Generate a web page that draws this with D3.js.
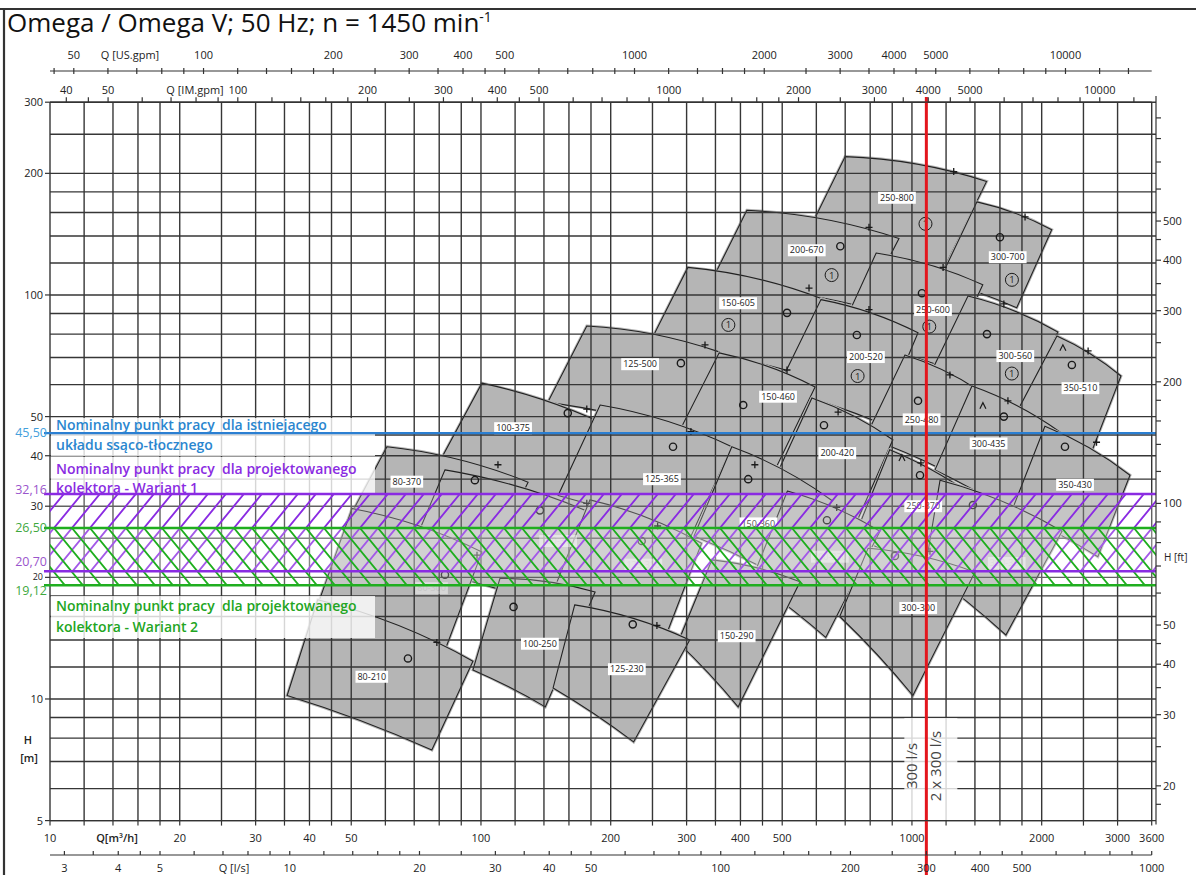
<!DOCTYPE html>
<html>
<head>
<meta charset="utf-8">
<script src="https://cdn.jsdelivr.net/npm/d3@7/dist/d3.min.js"></script>
<style>
  body { margin: 0; background: #fff; }
  text { font-family: "Open Sans", "DejaVu Sans", sans-serif; }
</style>
</head>
<body>
<script>
var width = 1196, height = 875;
var plotLeft = 50, plotRight = 1151.7, plotTop = 102.2, plotBottom = 820.6;
var ftAxisX = 1156;

// unit factors
var usGpmPerM3h = 4.402868, imGpmPerM3h = 3.666154, lsPerM3h = 1 / 3.6, ftPerM = 3.28084;

// grid pattern per decade
var gridSteps = [1, 1.2, 1.4, 1.6, 1.8, 2, 2.5, 3, 3.5, 4, 4.5, 5, 6, 7, 8, 9];
var decades = [1, 10, 100, 1000, 10000];

// tick labels
var qLabels = [10, 20, 30, 40, 50, 100, 200, 300, 400, 500, 1000, 2000, 3000, 3600];
var lsLabels = [3, 4, 5, 10, 20, 30, 40, 50, 100, 200, 300, 400, 500, 1000];
var imLabels = [40, 50, 100, 200, 300, 400, 500, 1000, 2000, 3000, 4000, 5000, 10000];
var usLabels = [50, 100, 200, 300, 400, 500, 1000, 2000, 3000, 4000, 5000, 10000];
var hLabels = [5, 10, 20, 30, 40, 50, 100, 200, 300];
var ftLabels = [20, 30, 40, 50, 100, 200, 300, 400, 500];

// pump tiles, drawing order; corners [Q m3/h, H m]: top-left, top-right, bottom-right, bottom-left
var tileNames = ["250-800", "300-700", "200-670", "250-600", "150-605", "300-560", "200-520", "125-500",
  "350-510", "150-460", "250-480", "100-375", "300-435", "200-420", "125-365", "350-430", "80-370",
  "150-360", "250-370", "100-310", "300-360", "200-330", "125-310", "80-300", "300-300", "150-290",
  "100-250", "125-230", "80-210"];
var tileOutlines = [
  [[700, 220], [1490, 191], [1180, 115], [555, 133]],
  [[1415, 170], [2110, 145], [1750, 93], [1160, 109]],
  [[414, 162], [933, 138], [773, 93.4], [344, 109]],
  [[826, 127], [1460, 106], [1190, 66.3], [673, 78.7]],
  [[302, 117], [625, 97.4], [510, 65.2], [247, 76.5]],
  [[1349, 99.4], [2180, 81], [1800, 51.9], [1100, 63.4]],
  [[615, 97.4], [1033, 80.6], [843, 48.2], [488, 58.8]],
  [[176, 83.8], [357, 72.3], [294, 46.3], [143, 54.3]],
  [[2170, 79.2], [3055, 63], [2590, 40], [1688, 47.6]],
  [[357, 71.9], [596, 59.2], [481, 36.9], [282, 43.8]],
  [[963, 71], [1423, 58.2], [1181, 36.9], [781, 44.5]],
  [[100.5, 60.5], [229, 43.8], [181, 25.8], [76.1, 34.9]],
  [[1378, 59.5], [2205, 45.8], [1830, 27.7], [1131, 36.9]],
  [[586, 55.6], [903, 43.8], [737, 26.8], [476, 34.3]],
  [[189, 53.4], [382, 42.1], [305, 24.9], [151, 31.9]],
  [[2035, 47.3], [3206, 35.8], [2700, 22.5], [1706, 29.3]],
  [[60.5, 42.1], [128.6, 34.4], [103.8, 21.3], [48.3, 26.8]],
  [[382, 42.1], [652, 31], [535, 19.2], [312, 25.3]],
  [[888, 41.4], [1517, 29.6], [1256, 18.4], [737, 25.3]],
  [[82.5, 36.9], [201, 27.4], [168, 16.15], [66.6, 21.5]],
  [[1162, 34.8], [2230, 26], [1652, 14.4], [1072, 20.9]],
  [[514, 32.7], [843, 26], [631, 14.2], [425, 19.7]],
  [[179, 31.1], [325, 24.3], [269, 14.4], [146, 18.1]],
  [[50.2, 29.6], [100.5, 23.1], [82.5, 13.2], [41.8, 17.1]],
  [[791, 23.6], [1400, 20.6], [1005, 10.2], [680, 16]],
  [[343.5, 22.1], [550, 19.5], [395, 9.56], [286.5, 13.8]],
  [[110.7, 19.9], [184, 18.4], [141, 9.56], [95.8, 11.8]],
  [[165, 17.1], [305, 14], [226, 7.83], [147, 10.65]],
  [[41.8, 17.6], [95.8, 12.4], [76.9, 7.48], [35.5, 10.2]]
];
var tileLabelAt = [[923, 174], [1668, 124], [570, 129], [1119, 91.8], [395, 95.4], [1737, 70.6], [782, 70.2],
  [234, 67.4], [2460, 58.8], [489, 56], [1053, 49.2], [118.7, 46.8], [1506, 42.9], [671, 40.6], [263, 35],
  [2390, 33.9], [67.3, 34.5], [440, 27.2], [1062, 30], [151, 24.6], [1659, 21.7], [645, 22.5], [238, 21.5],
  [76.8, 18.8], [1034, 16.8], [392, 14.3], [137, 13.7], [218, 11.85], [55.8, 11.35]];
var fadedLabels = ["100-310", "300-360", "200-330", "125-310", "80-300"];

// curve symbols
var plusMarks = [[1250, 202], [1830, 156], [795, 147], [577, 104], [1181, 117], [331, 75.2], [795, 92],
  [1634, 95], [513, 65.2], [2563, 72.7], [176, 52.2], [1225, 63.4], [1670, 54.7], [674, 51.3], [109.5, 38],
  [307, 45.9], [2681, 43.2], [432, 38], [1049, 38.4], [176, 30.5], [257, 26.8], [669, 29.8], [97.9, 22.7],
  [1101, 23.2], [256, 15.2], [79, 13.8]];
var ringMarks = [[682, 132], [1600, 139], [513, 90.3], [1055, 101], [291, 67.8], [745, 79.6], [1493, 80],
  [406, 53.4], [2350, 67.1], [159, 51], [1033, 54.7], [1634, 50], [625, 47.6], [96.8, 34.8], [279, 42.1],
  [2265, 42.1], [417, 35], [1044, 35.8], [137, 29.3], [236, 24.6], [635, 27.7], [1385, 30.2], [82.5, 20.3],
  [913, 22.6], [119, 16.9], [225, 15.3], [67.7, 12.6]];
var circledOneMarks = [[1075, 150], [651, 112], [1706, 109], [375, 84.3], [1097, 83.5], [748, 63], [1705, 63.9]];
var caretMarks = [[2240, 74], [1461, 53.2], [948, 39.5]];

// operating points
var existingHead = 45.50;
var variant1Heads = [32.16, 20.70];
var variant2Heads = [26.50, 19.12];
var dutyFlowLs = 300;

var blue = "#2b7fd2", purple = "#8a2be2", green = "#1fae1f";
var tileGrey = "#b5b5b5";

var svg = d3.select("body").append("svg")
    .attr("width", width)
    .attr("height", height);

var x = d3.scaleLog().domain([10, 3600]).range([plotLeft, plotRight]);
var y = d3.scaleLog().domain([5, 300]).range([plotBottom, plotTop]);
var xUS = d3.scaleLog().domain([10 * usGpmPerM3h, 3600 * usGpmPerM3h]).range([plotLeft, plotRight]);
var xIM = d3.scaleLog().domain([10 * imGpmPerM3h, 3600 * imGpmPerM3h]).range([plotLeft, plotRight]);
var xLS = d3.scaleLog().domain([10 * lsPerM3h, 3600 * lsPerM3h]).range([plotLeft, plotRight]);
var yFt = d3.scaleLog().domain([5 * ftPerM, 300 * ftPerM]).range([plotBottom, plotTop]);

function steps(lo, hi) {
    var out = [];
    decades.forEach(function(d) {
        gridSteps.forEach(function(s) {
            var v = +(s * d).toPrecision(4);
            if (v >= lo * 0.999 && v <= hi * 1.001) out.push(v);
        });
    });
    return out;
}

// quadratic edge bowing upward (pump curves are concave)
function bow(a, b, k) {
    var mx = (a[0] + b[0]) / 2, my = (a[1] + b[1]) / 2;
    var dx = b[0] - a[0], dy = b[1] - a[1], len = Math.sqrt(dx * dx + dy * dy);
    var nx = -dy / len, ny = dx / len;
    if (ny > 0) { nx = -nx; ny = -ny; }
    return "Q" + (mx + nx * k * len) + "," + (my + ny * k * len) + " " + b[0] + "," + b[1];
}
function tilePath(pts) {
    var p = pts.map(function(d) { return [x(d[0]), y(d[1])]; });
    return "M" + p[0] + bow(p[0], p[1], 0.07) + "L" + p[2] + bow(p[2], p[3], 0.03) + "Z";
}

// tiles: fill with a thin halo to close hairline gaps, then the outline
var tiles = svg.append("g").selectAll("g")
    .data(tileOutlines)
    .enter().append("g");
tiles.append("path")
    .attr("d", tilePath)
    .attr("fill", tileGrey)
    .attr("stroke", tileGrey)
    .attr("stroke-width", 3);
tiles.append("path")
    .attr("d", tilePath)
    .attr("fill", "none")
    .attr("stroke", "#222")
    .attr("stroke-width", 1.1);

// grid
var grid = svg.append("g").attr("stroke", "#363636").attr("stroke-width", 1.4);
grid.selectAll(".v").data(steps(10, 3400).concat([3600])).enter().append("line")
    .attr("x1", function(d) { return x(d); }).attr("x2", function(d) { return x(d); })
    .attr("y1", plotTop).attr("y2", plotBottom);
grid.selectAll(".h").data(steps(5, 300)).enter().append("line")
    .attr("x1", plotLeft).attr("x2", ftAxisX)
    .attr("y1", function(d) { return y(d); }).attr("y2", function(d) { return y(d); });

// symbols
var sym = svg.append("g").attr("stroke", "#1a1a1a").attr("fill", "none");
sym.selectAll(".plus").data(plusMarks).enter().append("path")
    .attr("d", function(d) { var a = x(d[0]), b = y(d[1]); return "M" + (a - 3.5) + "," + b + "h7M" + a + "," + (b - 3.5) + "v7"; })
    .attr("stroke-width", 1.3);
sym.selectAll(".ring").data(ringMarks).enter().append("circle")
    .attr("cx", function(d) { return x(d[0]); }).attr("cy", function(d) { return y(d[1]); })
    .attr("r", 3.6).attr("stroke-width", 1.4);
sym.selectAll(".one").data(circledOneMarks).enter().append("circle")
    .attr("cx", function(d) { return x(d[0]); }).attr("cy", function(d) { return y(d[1]); })
    .attr("r", 6.5).attr("stroke-width", 1);
svg.append("g").selectAll("text").data(circledOneMarks).enter().append("text")
    .attr("x", function(d) { return x(d[0]); }).attr("y", function(d) { return y(d[1]) + 3.5; })
    .attr("text-anchor", "middle").style("font-size", "9.5px").style("fill", "#222").text("1");
sym.selectAll(".caret").data(caretMarks).enter().append("path")
    .attr("d", function(d) { var a = x(d[0]), b = y(d[1]); return "M" + (a - 3) + "," + (b + 3) + "L" + a + "," + (b - 3) + "L" + (a + 3) + "," + (b + 3); })
    .attr("stroke-width", 1.2);

// tile labels
var lab = svg.append("g").selectAll("g")
    .data(tileNames)
    .enter().append("g")
    .attr("transform", function(d, i) { return "translate(" + x(tileLabelAt[i][0]) + "," + y(tileLabelAt[i][1]) + ")"; })
    .style("opacity", function(d) { return fadedLabels.indexOf(d) >= 0 ? 0.45 : 1; });
lab.append("rect").attr("fill", "#fff");
lab.append("text")
    .attr("text-anchor", "middle").attr("y", 3.2)
    .style("font-size", "9px").style("fill", function(d) { return fadedLabels.indexOf(d) >= 0 ? "#ddd" : "#222"; })
    .text(function(d) { return d; });
lab.each(function() {
    var g = d3.select(this), w = g.select("text").node().getComputedTextLength() + 4;
    g.select("rect").attr("x", -w / 2).attr("y", -6).attr("width", w).attr("height", 12);
});

// hatched operating bands
var defs = svg.append("defs");
defs.append("pattern").attr("id", "hatchW1").attr("patternUnits", "userSpaceOnUse")
    .attr("width", 18).attr("height", 22)
    .append("path").attr("d", "M0,22L18,0M-4.5,5.5L4.5,-5.5M13.5,27.5L22.5,16.5")
    .attr("stroke", purple).attr("stroke-width", 1.8);
defs.append("pattern").attr("id", "hatchW2").attr("patternUnits", "userSpaceOnUse")
    .attr("width", 18).attr("height", 22)
    .append("path").attr("d", "M0,0L18,22M-4.5,16.5L4.5,27.5M13.5,-5.5L22.5,5.5")
    .attr("stroke", green).attr("stroke-width", 1.8);

var bands = svg.append("g");
[[variant1Heads, "url(#hatchW1)"], [variant2Heads, "url(#hatchW2)"]].forEach(function(b) {
    var y0 = y(b[0][0]), y1 = y(b[0][1]);
    bands.append("rect").attr("x", plotLeft).attr("width", ftAxisX - plotLeft)
        .attr("y", y0).attr("height", y1 - y0).attr("fill", "#fff").attr("opacity", 0.22);
    bands.append("rect").attr("x", plotLeft).attr("width", ftAxisX - plotLeft)
        .attr("y", y0).attr("height", y1 - y0).attr("fill", b[1]);
});

// note boxes
var notes = svg.append("g");
[[418, 38], [457, 36], [596, 42]].forEach(function(r) {
    notes.append("rect").attr("x", plotLeft + 1).attr("y", r[0]).attr("width", 324).attr("height", r[1])
        .attr("fill", "#fff").attr("opacity", 0.8);
});

var headLines = [
    { v: existingHead, c: blue, t: "#44a0dc", dy: 4 },
    { v: variant1Heads[0], c: purple, t: "#9a55cc", dy: 0 },
    { v: variant1Heads[1], c: purple, t: "#9a55cc", dy: -5 },
    { v: variant2Heads[0], c: green, t: "#3ea83e", dy: 4 },
    { v: variant2Heads[1], c: green, t: "#3ea83e", dy: 9.5 }
];
var comma = function(v) { return d3.format(".2f")(v).replace(".", ","); };
notes.selectAll(".hl").data(headLines).enter().append("line")
    .attr("x1", 44).attr("x2", ftAxisX)
    .attr("y1", function(d) { return y(d.v); }).attr("y2", function(d) { return y(d.v); })
    .attr("stroke", function(d) { return d.c; }).attr("stroke-width", 2.4);
notes.selectAll(".hv").data(headLines).enter().append("text")
    .attr("x", 47).attr("y", function(d) { return y(d.v) + d.dy; })
    .attr("text-anchor", "end")
    .style("font-size", "12.5px").style("fill", function(d) { return d.t; })
    .text(function(d) { return comma(d.v); });

var noteText = [
    ["Nominalny punkt pracy  dla istniejącego", 430, "#2a86cf"],
    ["układu ssąco-tłocznego", 450, "#2a86cf"],
    ["Nominalny punkt pracy  dla projektowanego", 474, "#8a2be2"],
    ["kolektora - Wariant 1", 493, "#8a2be2"],
    ["Nominalny punkt pracy  dla projektowanego", 611, "#22a522"],
    ["kolektora - Wariant 2", 632, "#22a522"]
];
notes.selectAll(".nt").data(noteText).enter().append("text")
    .attr("x", 56).attr("y", function(d) { return d[1]; })
    .style("font-size", "14px").style("font-weight", 600).style("white-space", "pre")
    .style("fill", function(d) { return d[2]; })
    .text(function(d) { return d[0]; });

// duty flow marker
var xr = x(dutyFlowLs / lsPerM3h);
svg.append("rect").attr("x", xr - 22).attr("y", 718).attr("width", 53).attr("height", plotBottom - 718)
    .attr("fill", "#fff").attr("opacity", 0.8);
svg.append("line").attr("x1", xr).attr("x2", xr).attr("y1", 97).attr("y2", height)
    .attr("stroke", "#e3161d").attr("stroke-width", 3);
[["300 l/s", xr - 14], ["2 x 300 l/s", xr + 10]].forEach(function(t) {
    svg.append("text").attr("transform", "translate(" + (t[1] + 5) + ",766) rotate(-90)")
        .attr("text-anchor", "middle").style("font-size", "15px").style("fill", "#444").text(t[0]);
});

// axes
var axes = svg.append("g").attr("stroke", "#333").attr("stroke-width", 1.2);
var axText = svg.append("g").style("font-size", "11px").style("fill", "#222");

function hAxis(scale, vals, labels, yLine, t0, t1, yText) {
    axes.append("line").attr("x1", plotLeft).attr("x2", plotRight).attr("y1", yLine).attr("y2", yLine);
    axes.selectAll(null).data(vals).enter().append("line")
        .attr("x1", function(d) { return scale(d); }).attr("x2", function(d) { return scale(d); })
        .attr("y1", yLine + t0).attr("y2", yLine + t1);
    axText.selectAll(null).data(labels).enter().append("text")
        .attr("x", function(d) { return scale(d); }).attr("y", yText)
        .attr("text-anchor", "middle").text(function(d) { return d; });
}
hAxis(xUS, steps(10 * usGpmPerM3h, 3600 * usGpmPerM3h), usLabels, 71, -3, 3, 59);
hAxis(xIM, steps(10 * imGpmPerM3h, 3600 * imGpmPerM3h), imLabels, plotTop, -5, 0, 94);
hAxis(x, steps(10, 3400).concat([3600]), qLabels, plotBottom, 0, 5, 842);
hAxis(xLS, steps(10 * lsPerM3h, 1000), lsLabels, 855, -4, 0, 872);

axText.append("text").attr("x", 130).attr("y", 59).attr("text-anchor", "middle").text("Q [US.gpm]");
axText.append("text").attr("x", 195).attr("y", 94).attr("text-anchor", "middle").text("Q [IM.gpm]");
axText.append("text").attr("x", 117).attr("y", 842).attr("text-anchor", "middle").style("font-weight", 600).text("Q[m³/h]");
axText.append("text").attr("x", 234).attr("y", 872).attr("text-anchor", "middle").text("Q [l/s]");

// left H axis
axes.selectAll(null).data(hLabels).enter().append("line")
    .attr("x1", plotLeft - 5).attr("x2", plotLeft)
    .attr("y1", function(d) { return y(d); }).attr("y2", function(d) { return y(d); });
axText.selectAll(null).data(hLabels).enter().append("text")
    .attr("x", plotLeft - 7).attr("y", function(d) { return y(d) + (d === 20 ? 2.5 : 4); })
    .attr("text-anchor", "end").style("font-size", function(d) { return d === 20 ? "9px" : null; })
    .text(function(d) { return d; });
axText.append("text").attr("x", 28).attr("y", 744).attr("text-anchor", "middle").style("font-weight", 600).text("H");
axText.append("text").attr("x", 29).attr("y", 762).attr("text-anchor", "middle").style("font-weight", 600).text("[m]");

// right ft axis
axes.append("line").attr("x1", ftAxisX).attr("x2", ftAxisX).attr("y1", 96).attr("y2", plotBottom + 4);
axes.selectAll(null).data(steps(5 * ftPerM, 300 * ftPerM)).enter().append("line")
    .attr("x1", ftAxisX).attr("x2", ftAxisX + 5)
    .attr("y1", function(d) { return yFt(d); }).attr("y2", function(d) { return yFt(d); });
axText.selectAll(null).data(ftLabels).enter().append("text")
    .attr("x", ftAxisX + 7).attr("y", function(d) { return yFt(d) + 4; })
    .text(function(d) { return d; });
axText.append("text").attr("x", ftAxisX + 8).attr("y", 561).style("font-size", "10px").text("H [ft]");

// frame and title
svg.append("path").attr("d", "M0,9H" + width + "M4,9V" + height)
    .attr("stroke", "#333").attr("stroke-width", 2.2).attr("fill", "none");
var title = svg.append("text").attr("x", 7).attr("y", 32).style("font-size", "26px").style("fill", "#111");
title.append("tspan").text("Omega / Omega V; 50 Hz; n = 1450 min");
title.append("tspan").attr("dy", -10).style("font-size", "14px").text("-1");
</script>
</body>
</html>
